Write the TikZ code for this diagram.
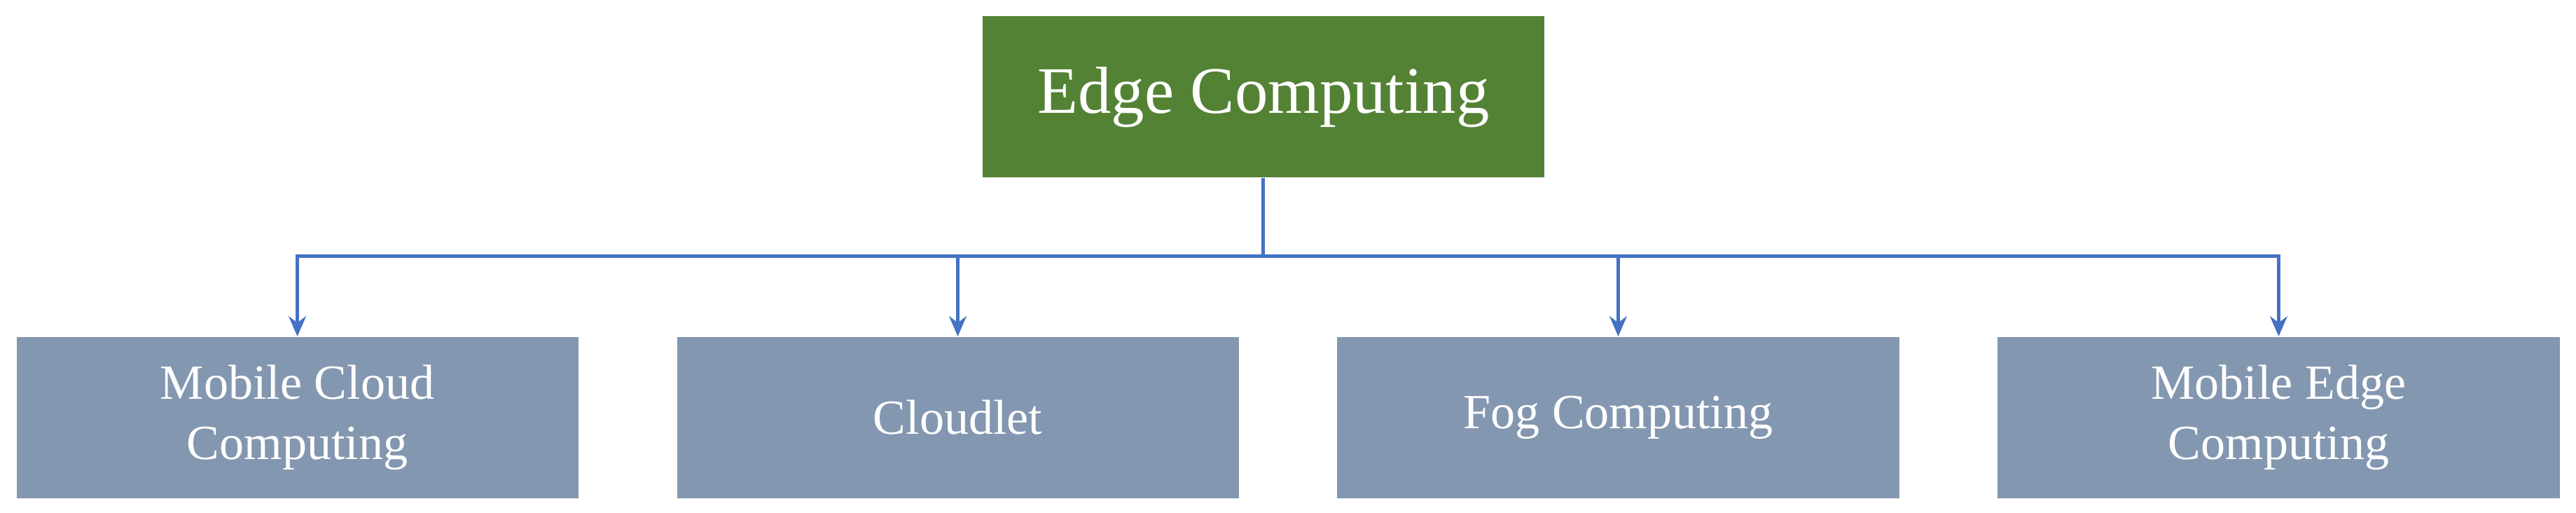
\documentclass[tikz,border=0pt]{standalone}
\usetikzlibrary{arrows.meta}
\usepackage{fontspec}
\setmainfont{Liberation Serif}
\definecolor{topg}{HTML}{548235}
\definecolor{botb}{HTML}{8497B0}
\definecolor{lineb}{HTML}{4472C4}
\begin{document}
\begin{tikzpicture}[x=0.02cm,y=-0.02cm,
  box/.style={draw=none,inner sep=0pt,minimum width=6.84cm,minimum height=1.96cm,text=white,align=center},
  top/.style={box,fill=topg,font=\fontsize{23}{27}\selectfont},
  bot/.style={box,fill=botb,font=\fontsize{17}{21}\selectfont},
  conn/.style={draw=lineb,line width=1.2pt,-{Stealth[length=7pt,width=6pt]}}]
\useasboundingbox (0,0) rectangle (1568,312);
\node[top] (ec) at (769,59) {Edge Computing};
\node[bot] (a) at (181,254) {Mobile Cloud\\Computing};
\node[bot] (b) at (583,254) {Cloudlet};
\node[bot] (c) at (985,254) {Fog Computing};
\node[bot] (d) at (1387,254) {Mobile Edge\\Computing};
\coordinate (j) at (769,156);
\draw[draw=lineb,line width=1.2pt] (ec.south) -- (j);
\foreach \n in {a,b,c,d}{\draw[conn] (j) -| (\n.north);}
\end{tikzpicture}
\end{document}
